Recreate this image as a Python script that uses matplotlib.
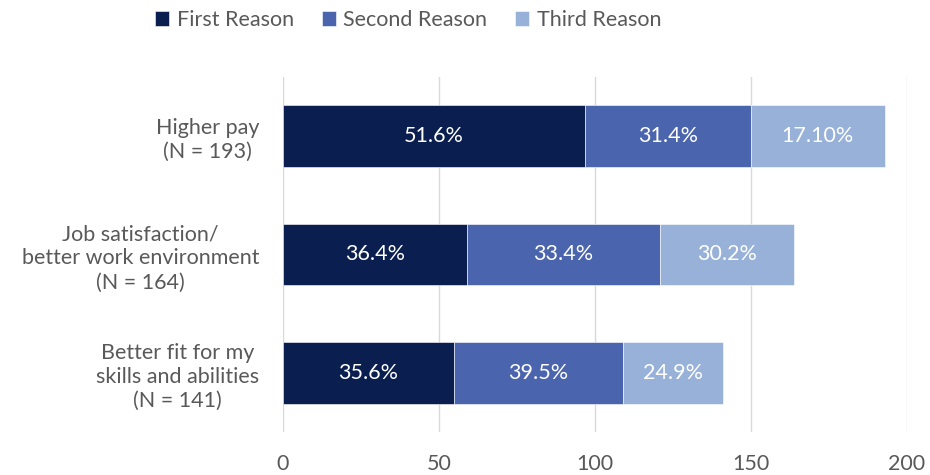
import numpy as np
import matplotlib.pyplot as plt

plt.rcParams['font.family'] = ['Lato', 'DejaVu Sans']

# reasons for changing jobs, counts per rank
categories = ['Higher pay\n(N = 193)',
              'Job satisfaction/\nbetter work environment\n(N = 164)',
              'Better fit for my\nskills and abilities\n(N = 141)']
first = [97, 59, 55]
second = [53, 62, 54]
third = [43, 43, 32]
first_lbl = ['51.6%', '36.4%', '35.6%']
second_lbl = ['31.4%', '33.4%', '39.5%']
third_lbl = ['17.10%', '30.2%', '24.9%']

series_names = ['First Reason', 'Second Reason', 'Third Reason']
colors = ['#0A1F4F', '#4A64AE', '#97B1D8']
gray = '#595959'

fig = plt.figure(figsize=(9.3, 4.75), dpi=100)
ax = fig.add_axes([0.304, 0.0905, 0.671, 0.748])

y = np.arange(len(categories))
left = np.zeros(len(categories))
for vals, lbls, name, c in zip([first, second, third],
                               [first_lbl, second_lbl, third_lbl],
                               series_names, colors):
    bars = ax.barh(y, vals, left=left, height=0.52, color=c, label=name,
                   edgecolor='white', linewidth=0.4, zorder=3)
    ax.bar_label(bars, labels=lbls, label_type='center', color='white',
                 fontsize=15.5)
    left += np.array(vals)

ax.set_ylim(len(categories) - 0.5, -0.5)
ax.set_xlim(0, 200)
ax.set_xticks([0, 50, 100, 150, 200])
ax.set_yticks(y)
ax.set_yticklabels(categories, multialignment='center', linespacing=1.25)
ax.grid(axis='x', color='#D9D9D9', linewidth=1, zorder=0)
ax.tick_params(axis='x', length=0, pad=16, labelsize=15.5, labelcolor=gray)
ax.tick_params(axis='y', length=0, pad=17, labelsize=15.5, labelcolor=gray)
for s in ax.spines.values():
    s.set_visible(False)

fig.legend(loc='center', bbox_to_anchor=(0.439, 0.958), ncol=3, frameon=False,
           fontsize=15.5, labelcolor=gray, handlelength=0.65, handleheight=0.65,
           handletextpad=0.35, columnspacing=1.3)

fig.savefig('out.png', dpi=100)
